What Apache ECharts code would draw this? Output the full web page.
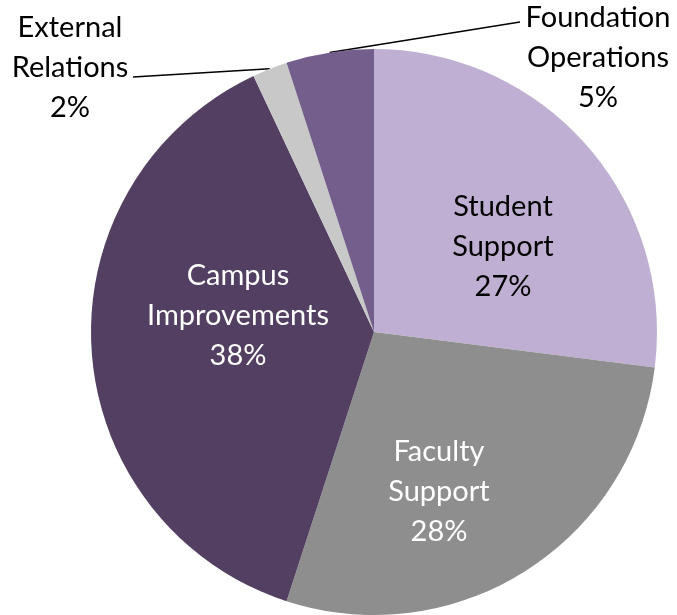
<!DOCTYPE html>
<html><head><meta charset="utf-8">
<script src="https://cdn.jsdelivr.net/npm/echarts@6/dist/echarts.min.js"></script>
<style>html,body{margin:0;padding:0;background:#fff}#c{width:677px;height:615px}</style>
</head><body><div id="c"></div>
<script>
// Data
const categories = ['Student Support', 'Faculty Support', 'Campus Improvements', 'External Relations', 'Foundation Operations'];
const values = [27, 28, 38, 2, 5];

// Styles / layout (not data)
const colors = ['#BFB0D3', '#8E8E8E', '#523F62', '#C8C8C8', '#735E8C'];
const labelColors = ['#000', '#fff', '#fff', '#000', '#000'];
const outsideLabel = [false, false, false, true, true];
const labelPos = [[503, 247], [439, 492], [238, 316], [70, 68], [598, 58]];
const lineEnds = [null, null, null, [133, 77], [520, 22]];

const chart = echarts.init(document.getElementById('c'), null, {renderer: 'canvas'});
chart.setOption({
  animation: false,
  backgroundColor: '#fff',
  series: [{
    type: 'pie',
    center: [374, 332],
    radius: 283,
    startAngle: 90,
    clockwise: true,
    avoidLabelOverlap: false,
    emphasis: {disabled: true},
    itemStyle: {borderWidth: 0},
    label: {
      fontFamily: 'Lato',
      fontSize: 29,
      lineHeight: 40,
      formatter: function (p) { return p.name.replace(' ', '\n') + '\n' + p.value + '%'; }
    },
    labelLine: {show: true, lineStyle: {color: '#000', width: 1.5}},
    labelLayout: function (p) {
      const i = p.dataIndex;
      const r = {x: labelPos[i][0], y: labelPos[i][1], align: 'center', verticalAlign: 'middle'};
      if (lineEnds[i] && p.labelLinePoints) {
        r.labelLinePoints = [p.labelLinePoints[0], lineEnds[i], lineEnds[i]];
      }
      return r;
    },
    data: categories.map(function (name, i) {
      return {
        name: name,
        value: values[i],
        itemStyle: {color: colors[i]},
        label: {position: outsideLabel[i] ? 'outside' : 'inside', color: labelColors[i]},
        labelLine: {show: outsideLabel[i]}
      };
    })
  }]
});
</script>
</body></html>
